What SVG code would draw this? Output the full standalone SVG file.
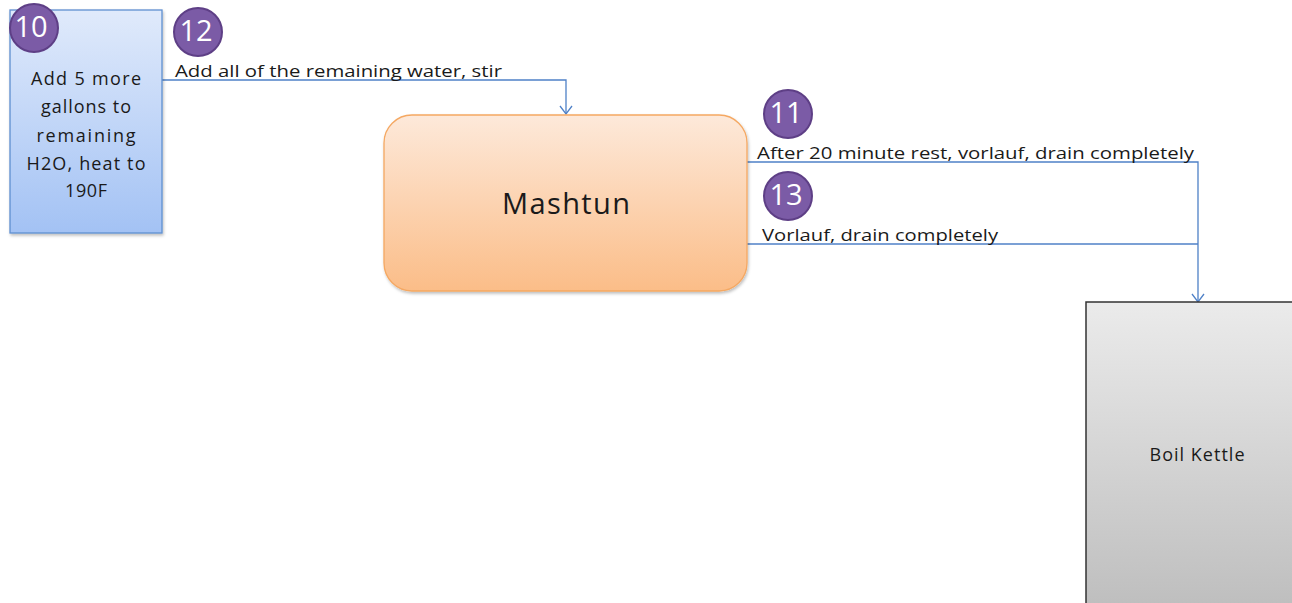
<svg xmlns="http://www.w3.org/2000/svg" width="1292" height="603" viewBox="0 0 1292 603">
<style>
text{font-family:"Open Sans","Liberation Sans",sans-serif;fill:#1a1a1a}
.lbl{font-size:17px}
.box{font-size:18px;text-anchor:middle}
.num{font-size:29px;fill:#fff;text-anchor:middle}
.badge{fill:#7b5ba6;stroke:#5e3f86;stroke-width:2}
.conn{fill:none;stroke:#4f81c7;stroke-width:1.3}
</style>
<defs>
<linearGradient id="gb" x1="0" y1="0" x2="0" y2="1"><stop offset="0" stop-color="#e0eafb"/><stop offset="1" stop-color="#a3c2f4"/></linearGradient>
<linearGradient id="go" x1="0" y1="0" x2="0" y2="1"><stop offset="0" stop-color="#fde9da"/><stop offset="1" stop-color="#fbbd88"/></linearGradient>
<linearGradient id="gg" x1="0" y1="0" x2="0" y2="1"><stop offset="0" stop-color="#ebebeb"/><stop offset="1" stop-color="#bcbcbc"/></linearGradient>
<marker id="arr" markerWidth="14" markerHeight="14" refX="12" refY="7" orient="auto" markerUnits="userSpaceOnUse"><path d="M4,1 L12,7 L4,13" fill="none" stroke="#4f81c7" stroke-width="1.3"/></marker>
<filter id="sh" x="-10%" y="-10%" width="120%" height="120%"><feDropShadow dx="1" dy="2" stdDeviation="1.5" flood-color="#000" flood-opacity="0.25"/></filter>
</defs>
<g id="connectors">
<path class="conn" d="M162,80 H566 V114" marker-end="url(#arr)"/>
<path class="conn" d="M747,162 H1198 V302" marker-end="url(#arr)"/>
<path class="conn" d="M747,244 H1198"/>
<text class="lbl" x="175" y="77" textLength="327" lengthAdjust="spacingAndGlyphs">Add all of the remaining water, stir</text>
<text class="lbl" x="757" y="159" textLength="437" lengthAdjust="spacingAndGlyphs">After 20 minute rest, vorlauf, drain completely</text>
<text class="lbl" x="762" y="241" textLength="236" lengthAdjust="spacingAndGlyphs">Vorlauf, drain completely</text>
</g>
<g id="node-heat">
<rect x="10" y="10" width="152" height="223" fill="url(#gb)" stroke="#5f8fd0" stroke-width="1.3" filter="url(#sh)"/>
<text class="box" x="86" y="85" textLength="110">Add 5 more</text>
<text class="box" x="86" y="113" textLength="90">gallons to</text>
<text class="box" x="86" y="142" textLength="99">remaining</text>
<text class="box" x="86" y="170" textLength="119">H2O, heat to</text>
<text class="box" x="86" y="197" textLength="42">190F</text>
</g>
<g id="node-mashtun">
<rect x="384" y="115" width="363" height="176" rx="28" fill="url(#go)" stroke="#f5a862" stroke-width="1.3" filter="url(#sh)"/>
<text x="566" y="214" font-size="29" text-anchor="middle" textLength="128">Mashtun</text>
</g>
<g id="node-kettle">
<rect x="1086" y="302" width="220" height="320" fill="url(#gg)" stroke="#333" stroke-width="1.5"/>
<text x="1197" y="461" font-size="18" text-anchor="middle" textLength="95">Boil Kettle</text>
</g>
<g id="badge-10"><circle class="badge" cx="34" cy="28" r="24"/><text class="num" x="31" y="37">10</text></g>
<g id="badge-12"><circle class="badge" cx="198" cy="32" r="24"/><text class="num" x="196" y="41">12</text></g>
<g id="badge-11"><circle class="badge" cx="788" cy="114" r="24"/><text class="num" x="786" y="123">11</text></g>
<g id="badge-13"><circle class="badge" cx="788" cy="196" r="24"/><text class="num" x="786" y="205">13</text></g>
</svg>
